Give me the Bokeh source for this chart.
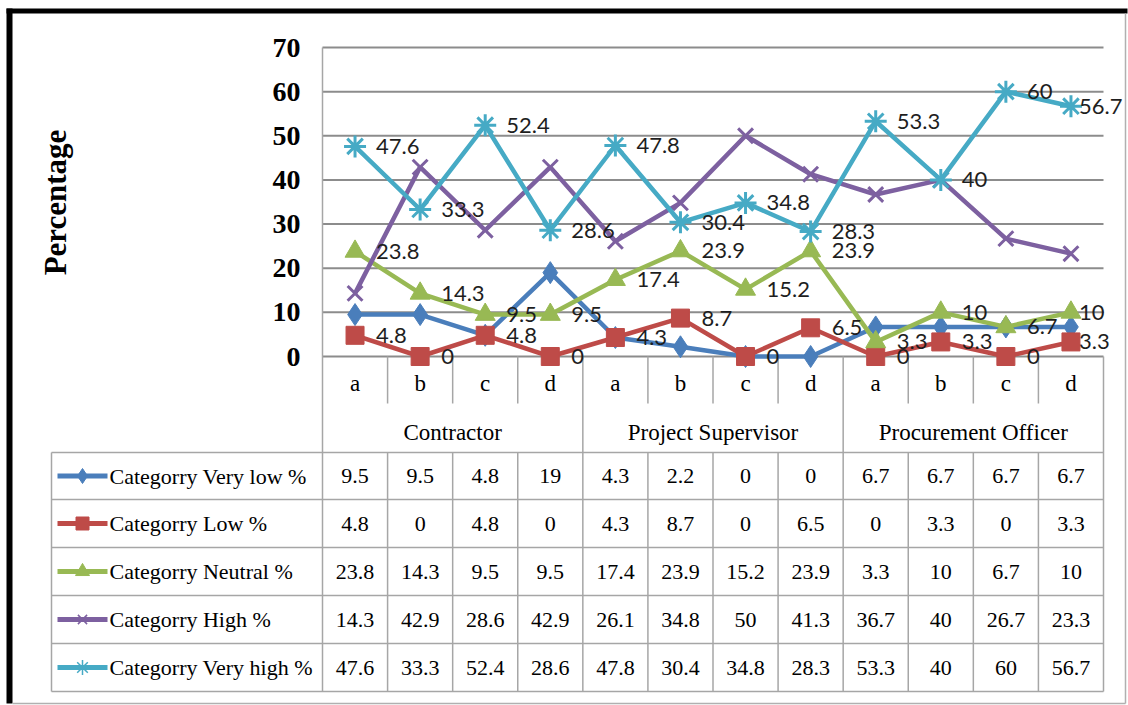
import math
from bokeh.plotting import figure
from bokeh.models import Range1d
from bokeh.core.properties import value
from bokeh.embed import file_html
from bokeh.resources import INLINE

# ---- data -------------------------------------------------------------
groups = ["Contractor", "Project Supervisor", "Procurement Officer"]
letters = ["a", "b", "c", "d"]
series_names = [
    "Categorry Very low %",
    "Categorry Low %",
    "Categorry Neutral %",
    "Categorry High %",
    "Categorry Very high %",
]
very_low = [9.5, 9.5, 4.8, 19, 4.3, 2.2, 0, 0, 6.7, 6.7, 6.7, 6.7]
low = [4.8, 0, 4.8, 0, 4.3, 8.7, 0, 6.5, 0, 3.3, 0, 3.3]
neutral = [23.8, 14.3, 9.5, 9.5, 17.4, 23.9, 15.2, 23.9, 3.3, 10, 6.7, 10]
high = [14.3, 42.9, 28.6, 42.9, 26.1, 34.8, 50, 41.3, 36.7, 40, 26.7, 23.3]
very_high = [47.6, 33.3, 52.4, 28.6, 47.8, 30.4, 34.8, 28.3, 53.3, 40, 60, 56.7]
y_ticks = [0, 10, 20, 30, 40, 50, 60, 70]
y_title = "Percentage"

# ---- styling ----------------------------------------------------------
series = [very_low, low, neutral, high, very_high]
colors = ["#4a7ebb", "#be4b48", "#98b954", "#7d60a0", "#46aac5"]
markers = ["diamond", "square", "triangle", "x", "asterisk"]
marker_sizes = [22, 18, 20, 21, 22]
key_sizes = [15, 13, 14, 13, 15]
show_labels = [False, True, True, False, True]

SERIF = value("Liberation Serif")
SANS = value("Lato")

# ---- page geometry (pixels) -------------------------------------------
W, H = 1128, 705
PL, PR = 322, 1103      # plot area left / right
PT, PZ = 47, 356        # top tick line / zero line
TL = 51                 # table left edge
ROW_EDGES = [452, 499, 547, 595, 643, 691]
CAT_ROW_Y, GROUP_ROW_Y, INNER_TICK_END = 383, 432, 403
LABEL_GAP, LABEL_GAP_EDGE = 21, 8   # data label offset; tighter in the last column

cats = [(g, l) for g in groups for l in letters]
n = len(cats)
ymax = y_ticks[-1]
ux = (PR - PL) / n
uy = (PZ - PT) / ymax


def X(px):
    return (px - PL) / ux


def Y(py):
    return (PZ - py) / uy


p = figure(
    width=W, height=H,
    x_range=Range1d(X(0), X(W)), y_range=Range1d(Y(H), Y(0)),
    x_axis_type=None, y_axis_type=None,
    output_backend="svg", toolbar_location=None,
    min_border=0, outline_line_color=None,
    background_fill_color="white", border_fill_color="white",
)

# outer frame
p.segment(x0=[X(6)], y0=[Y(10.5)], x1=[X(1127)], y1=[Y(10.5)], line_color="black", line_width=5)
p.segment(x0=[X(9)], y0=[Y(8)], x1=[X(9)], y1=[Y(703)], line_color="black", line_width=6)
p.segment(x0=[X(1125)], y0=[Y(13)], x1=[X(1125)], y1=[Y(703)], line_color="#b0b0b0", line_width=1.5)
p.segment(x0=[X(12)], y0=[Y(703)], x1=[X(1125)], y1=[Y(703)], line_color="#b0b0b0", line_width=1.5)

# horizontal gridlines
p.segment(x0=[0] * len(y_ticks), y0=y_ticks, x1=[n] * len(y_ticks), y1=y_ticks,
          line_color="#8c8c8c", line_width=2)

# value axis labels and title
p.text(x=[X(300)] * len(y_ticks), y=y_ticks, text=[str(t) for t in y_ticks],
       text_align="right", text_baseline="middle", text_font=SERIF,
       text_font_style="bold", text_font_size="28px", text_color="black")
p.text(x=[X(55)], y=[Y(202)], text=[y_title], angle=math.pi / 2,
       text_align="center", text_baseline="middle", text_font=SERIF,
       text_font_style="bold", text_font_size="31px", text_color="black")

# category axis / data table grid
GRID = "#a6a6a6"
vx0, vy0, vx1, vy1 = [], [], [], []
for b in range(n + 1):
    if b == 0:
        vx0.append(b); vy0.append(ymax); vx1.append(b); vy1.append(Y(ROW_EDGES[-1]))
    elif b % len(letters) == 0:
        vx0.append(b); vy0.append(0); vx1.append(b); vy1.append(Y(ROW_EDGES[-1]))
    else:
        vx0 += [b, b]; vy0 += [0, Y(ROW_EDGES[0])]
        vx1 += [b, b]; vy1 += [Y(INNER_TICK_END), Y(ROW_EDGES[-1])]
vx0.append(X(TL)); vy0.append(Y(ROW_EDGES[0])); vx1.append(X(TL)); vy1.append(Y(ROW_EDGES[-1]))
p.segment(x0=vx0, y0=vy0, x1=vx1, y1=vy1, line_color=GRID, line_width=1.5)
p.segment(x0=[X(TL)] * len(ROW_EDGES), y0=[Y(r) for r in ROW_EDGES],
          x1=[n] * len(ROW_EDGES), y1=[Y(r) for r in ROW_EDGES],
          line_color=GRID, line_width=1.5)

xc = [i + 0.5 for i in range(n)]
p.text(x=xc, y=[Y(CAT_ROW_Y)] * n, text=[c[1] for c in cats],
       text_align="center", text_baseline="middle", text_font=SERIF,
       text_font_size="23px", text_color="black")
gx = [len(letters) * (i + 0.5) for i in range(len(groups))]
p.text(x=gx, y=[Y(GROUP_ROW_Y)] * len(groups), text=groups,
       text_align="center", text_baseline="middle", text_font=SERIF,
       text_font_size="23px", text_color="black")

# series lines and markers
for vals, col, mk, sz in zip(series, colors, markers, marker_sizes):
    p.line(x=xc, y=vals, line_color=col, line_width=4.5)
    thin = mk in ("x", "asterisk")
    p.scatter(x=xc, y=vals, marker=mk, size=sz, fill_color=col, line_color=col,
              line_width=3 if thin else 1)

# data labels, placed to the right of each point
offsets = [LABEL_GAP] * (n - 1) + [LABEL_GAP_EDGE]
for vals, show in zip(series, show_labels):
    if show:
        p.text(x=xc, y=vals, text=[f"{v:g}" for v in vals], x_offset=offsets,
               text_align="left", text_baseline="middle", text_font=SANS,
               text_font_size="22px", text_color="#1e1e1e")

# data table rows: legend key, name, values
for r, (name, vals, col, mk, ks) in enumerate(zip(series_names, series, colors, markers, key_sizes)):
    yc = Y((ROW_EDGES[r] + ROW_EDGES[r + 1]) / 2)
    p.line(x=[X(57), X(107)], y=[yc, yc], line_color=col, line_width=5)
    thin = mk in ("x", "asterisk")
    p.scatter(x=[X(82)], y=[yc], marker=mk, size=ks, fill_color=col, line_color=col,
              line_width=1.5 if thin else 1)
    p.text(x=[X(109)], y=[yc], text=[name], text_align="left", text_baseline="middle",
           text_font=SERIF, text_font_size="22px", text_color="black")
    p.text(x=xc, y=[yc] * n, text=[f"{v:g}" for v in vals], text_align="center",
           text_baseline="middle", text_font=SERIF, text_font_size="22px",
           text_color="black")

open("out.html", "w").write(file_html(p, INLINE))
